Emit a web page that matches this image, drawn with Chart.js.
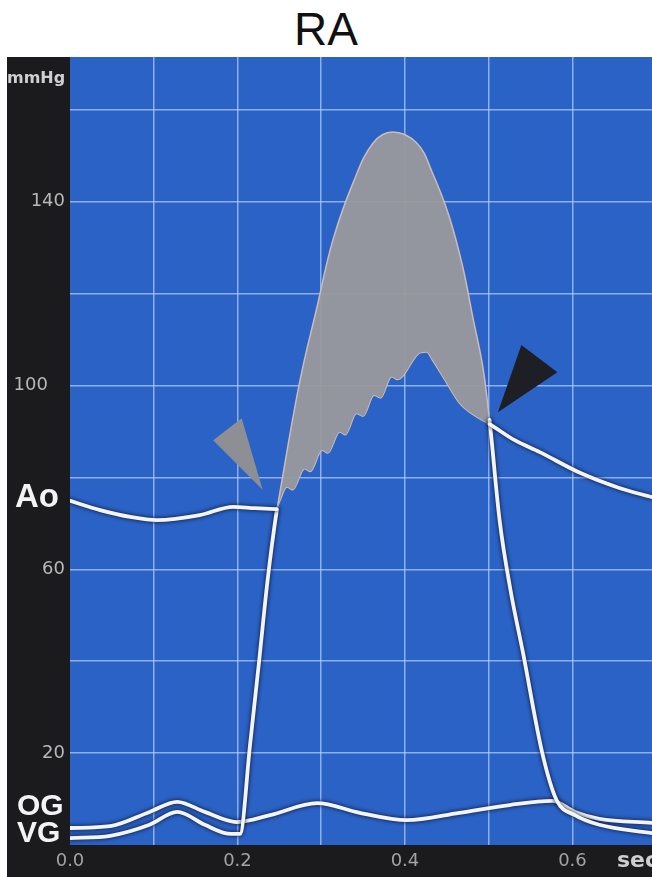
<!DOCTYPE html>
<html>
<head>
<meta charset="utf-8">
<title>RA</title>
<script src="https://cdn.jsdelivr.net/npm/chart.js@4.4.0/dist/chart.umd.min.js"></script>
<style>
  html, body { margin: 0; padding: 0; background: #fff; }
  body { width: 652px; height: 877px; position: relative; overflow: hidden; }
  #title {
    position: absolute; left: 0; top: 6px; width: 652px;
    text-align: center; font-family: "Liberation Sans", Arial, sans-serif;
    font-size: 46px; line-height: 1; color: #111;
  }
  #wrap { position: absolute; left: 7px; top: 57px; width: 645px; height: 820px; }
</style>
</head>
<body>
<div id="title">RA</div>
<div id="wrap"><canvas id="pressureChart" width="645" height="820"></canvas></div>
<script>
// time in seconds, pressure in mmHg
const aoTime = [0, 0.036, 0.072, 0.104, 0.155, 0.195, 0.221, 0.247,
  0.251, 0.259, 0.266, 0.280, 0.287, 0.301, 0.308, 0.322, 0.329, 0.342, 0.350,
  0.363, 0.371, 0.384, 0.391, 0.418, 0.426, 0.433, 0.450, 0.465, 0.486, 0.501,
  0.531, 0.561, 0.609, 0.656, 0.695];
const aoPressure = [74.9, 72.9, 71.4, 70.7, 71.8, 73.6, 73.3, 73.1,
  75.1, 77.9, 77.3, 81.9, 81.3, 85.9, 85.3, 89.9, 89.3, 93.9, 93.3,
  97.9, 97.3, 101.9, 101.3, 107.1, 107.3, 105.5, 100.5, 96.2, 93.1, 91.6,
  88.1, 85.5, 81.0, 77.7, 75.7];

const vgTime = [0, 0.048, 0.095, 0.128, 0.161, 0.185, 0.203, 0.215, 0.226, 0.236, 0.247,
  0.274, 0.295, 0.314, 0.338, 0.362, 0.385, 0.414, 0.433, 0.453, 0.469, 0.481,
  0.493, 0.501, 0.513, 0.526, 0.541, 0.564, 0.581, 0.603, 0.632, 0.695];
const vgPressure = [1.5, 2.0, 4.4, 7.2, 4.4, 2.6, 2.4, 21.8, 40.3, 57.7, 72.9,
  100.5, 117.1, 131.7, 144.1, 152.8, 155.2, 152.8, 146.2, 136.7, 125.8, 114.9,
  104.0, 92.5, 70.7, 55.5, 41.8, 20.0, 9.8, 6.5, 4.4, 2.6];

const ogTime = [0, 0.048, 0.095, 0.128, 0.161, 0.199, 0.239, 0.295, 0.346, 0.402,
  0.465, 0.525, 0.576, 0.603, 0.632, 0.695];
const ogPressure = [3.7, 4.1, 7.2, 9.4, 7.2, 5.0, 6.5, 9.1, 7.0, 5.4,
  7.0, 8.7, 9.6, 7.2, 5.7, 4.8];

// ejection window (shaded between VG and Ao)
const ejectStart = 0.245;
const ejectEnd = 0.502;

// arrowheads: [time, pressure] corners
const greyArrowT = [0.171, 0.205, 0.230];
const greyArrowP = [88.1, 92.9, 77.3];
const blackArrowT = [0.539, 0.582, 0.511];
const blackArrowP = [108.8, 102.9, 94.2];

const toPoints = (ts, ps) => ts.map((t, i) => ({x: t, y: ps[i]}));
const aoPoints = toPoints(aoTime, aoPressure);
const vgPoints = toPoints(vgTime, vgPressure);
const ogPoints = toPoints(ogTime, ogPressure);
const inWindow = p => p.x >= ejectStart && p.x <= ejectEnd;

const white = '#f4f4f2';
const edge = '#cbbcbc';
const shade = 'rgba(153,153,156,0.95)';
const gridColor = 'rgba(185,210,250,0.7)';
const clear = 'rgba(0,0,0,0)';
const inEjection = c => c.p0.parsed.x >= ejectStart && c.p1.parsed.x <= ejectEnd;

const traceStyle = {
  borderColor: white,
  borderWidth: 3.8,
  borderCapStyle: 'round',
  borderJoinStyle: 'round',
  fill: false
};

const background = {
  id: 'background',
  beforeDraw(chart) {
    const {ctx, chartArea: a, width, height} = chart;
    ctx.save();
    ctx.fillStyle = '#1b1b1d';
    ctx.fillRect(0, 0, width, height);
    ctx.fillStyle = '#2b62c5';
    ctx.fillRect(a.left, a.top, a.right - a.left, a.bottom - a.top);
    ctx.restore();
  }
};

// dark halo round the white traces
const glow = {
  id: 'glow',
  beforeDatasetDraw(chart, args) {
    if (args.index > 2) return;
    const ctx = chart.ctx;
    ctx.save();
    ctx.shadowColor = 'rgba(6,12,40,1)';
    ctx.shadowBlur = 4;
  },
  afterDatasetDraw(chart, args) {
    if (args.index > 2) return;
    chart.ctx.restore();
  }
};

const arrowheads = {
  id: 'arrowheads',
  afterDatasetsDraw(chart) {
    const {ctx, scales: {x, y}} = chart;
    ctx.save();
    [[greyArrowT, greyArrowP, '#8d8f94'], [blackArrowT, blackArrowP, '#1d1f25']].forEach(([ts, ps, color]) => {
      ctx.beginPath();
      ts.forEach((t, i) => {
        const px = x.getPixelForValue(t);
        const py = y.getPixelForValue(ps[i]);
        if (i) ctx.lineTo(px, py); else ctx.moveTo(px, py);
      });
      ctx.closePath();
      ctx.fillStyle = color;
      ctx.fill();
    });
    ctx.restore();
  }
};

const sideLabels = {
  id: 'sideLabels',
  afterDraw(chart) {
    const {ctx, scales: {y}, chartArea: a} = chart;
    ctx.save();
    ctx.textBaseline = 'alphabetic';
    ctx.fillStyle = '#f3f3f3';
    ctx.font = 'bold 33px "Liberation Sans", Arial, sans-serif';
    ctx.fillText('Ao', 8, y.getPixelForValue(73.6));
    ctx.font = 'bold 30px "Liberation Sans", Arial, sans-serif';
    ctx.fillText('OG', 10, y.getPixelForValue(6.5));
    ctx.fillText('VG', 10, y.getPixelForValue(0.65));
    ctx.fillStyle = '#cfcfcf';
    ctx.font = 'bold 16px "DejaVu Sans", sans-serif';
    ctx.fillText('mmHg', 0, a.top + 26);
    ctx.font = 'bold 22px "DejaVu Sans", sans-serif';
    ctx.fillText('sec', 610, a.bottom + 22);
    ctx.restore();
  }
};

const pressureChart = new Chart(document.getElementById('pressureChart'), {
  type: 'line',
  data: {
    datasets: [
      {...traceStyle, label: 'Ao', data: aoPoints,
        segment: {borderColor: c => inEjection(c) ? clear : undefined}},
      {...traceStyle, label: 'VG', data: vgPoints,
        segment: {borderColor: c => inEjection(c) ? clear : undefined}},
      {...traceStyle, label: 'OG', data: ogPoints},
      {label: 'VG ejection', data: vgPoints.filter(inWindow), borderColor: edge, borderWidth: 1.5,
        cubicInterpolationMode: 'default', tension: 0.4,
        fill: {target: 4, above: shade, below: clear}},
      {label: 'Ao ejection', data: aoPoints.filter(inWindow), borderColor: edge, borderWidth: 1.5,
        fill: false}
    ]
  },
  options: {
    responsive: false,
    animation: false,
    layout: {padding: 0},
    elements: {
      point: {radius: 0},
      line: {cubicInterpolationMode: 'monotone'}
    },
    plugins: {
      legend: {display: false},
      tooltip: {enabled: false},
      title: {display: false}
    },
    scales: {
      x: {
        type: 'linear',
        min: 0,
        max: 0.695,
        afterFit(scale) {
          scale.height = 32;
          scale.paddingLeft = 0;
          scale.paddingRight = 0;
        },
        border: {display: false},
        grid: {
          color: c => c.tick && c.tick.value === 0 ? clear : gridColor,
          lineWidth: 1.5,
          drawTicks: false
        },
        ticks: {
          stepSize: 0.1,
          includeBounds: false,
          autoSkip: false,
          maxRotation: 0,
          padding: 6,
          color: '#a3a3a3',
          font: {family: 'DejaVu Sans', size: 18},
          callback: v => Math.round(v * 10) % 2 === 0 ? v.toFixed(1) : ''
        }
      },
      y: {
        min: 0,
        max: 171.5,
        afterFit(scale) {
          scale.width = 63;
          scale.paddingTop = 0;
          scale.paddingBottom = 0;
        },
        border: {display: false},
        grid: {
          color: c => c.tick && c.tick.value === 0 ? clear : gridColor,
          lineWidth: 1.5,
          drawTicks: false
        },
        ticks: {
          stepSize: 20,
          includeBounds: false,
          autoSkip: false,
          padding: 5,
          color: '#b8b8b8',
          font: {family: 'DejaVu Sans', size: 18},
          callback: v => {
            if ((v / 20) % 2 !== 1) return '';
            return v === 100 ? '100   ' : String(v);
          }
        }
      }
    }
  },
  plugins: [background, glow, arrowheads, sideLabels]
});
</script>
</body>
</html>
